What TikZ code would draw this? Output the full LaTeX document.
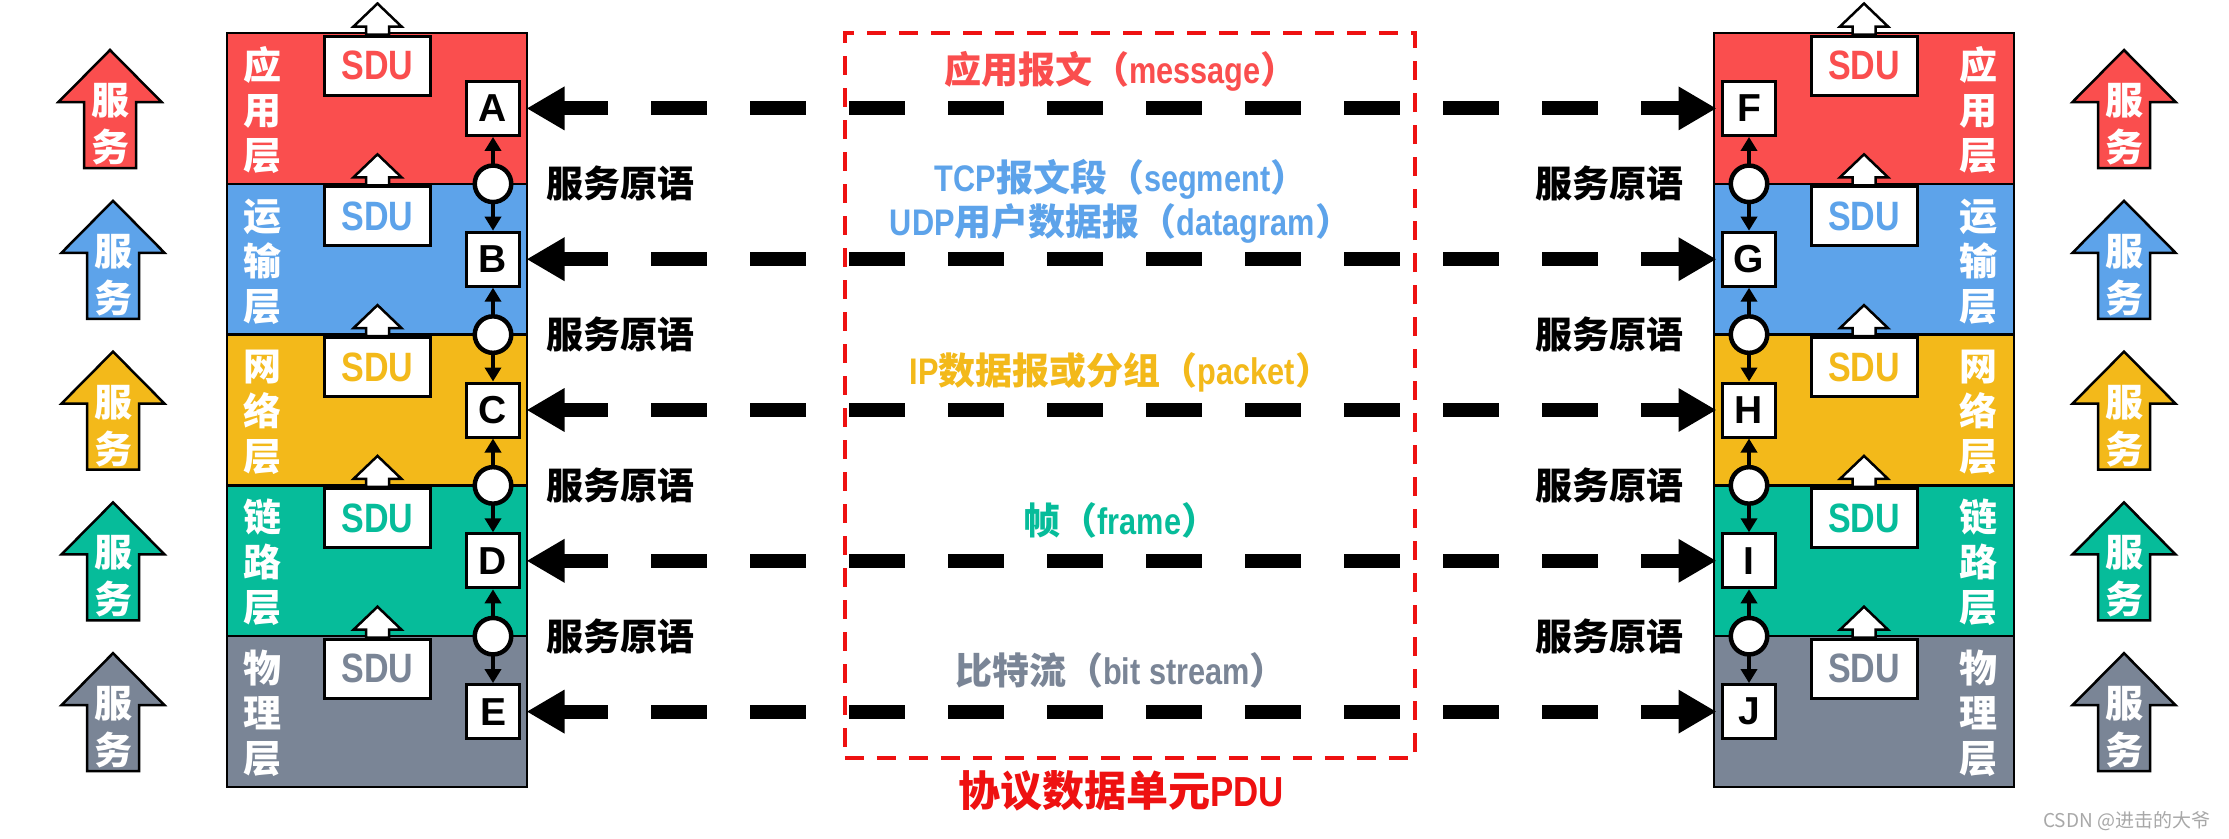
\documentclass[tikz,border=0pt]{standalone}
\usepackage{fontspec}
\usetikzlibrary{arrows.meta,calc}
\newfontfamily\zhfont{Noto Sans CJK SC}
\newfontfamily\enfont[FakeStretch=0.83]{Liberation Sans}
\newfontfamily\enwide{Liberation Sans}
\newcommand\myzh[1]{{\zhfont\bfseries #1}}
\newcommand\myen[1]{{\enfont\bfseries #1}}
\definecolor{cA}{HTML}{FA4E4E}
\definecolor{cB}{HTML}{5DA3EA}
\definecolor{cC}{HTML}{F3B91A}
\definecolor{cD}{HTML}{06BC9A}
\definecolor{cE}{HTML}{7A8596}
\definecolor{pdured}{HTML}{EE1111}
\definecolor{wmgray}{HTML}{A8A8A8}
\newcommand\svcarrow[4]{%
  \filldraw[svcarrowst,fill=#4] (#2,#3) -- (#2+51.5,#3+52) -- (#2+26,#3+52) -- (#2+26,#3+118) -- (#2-26,#3+118) -- (#2-26,#3+52) -- (#2-51.5,#3+52) -- cycle;
  \node[laylabel] (#1a) at (#2,#3+64.4) {服};
  \node[laylabel] (#1b) at (#2,#3+111.4) {务};
}
\newcommand\sduarrow[1]{%
  \filldraw[sduarrowst] ($(#1.north)+(-11.5,0)$) -- ++(0,-8) -- ++(-12.5,0) -- ($(#1.north)+(0,-31)$) -- ($(#1.north)+(24,-8)$) -- ++(-12.5,0) -- ++(0,8) -- cycle;
}
\begin{document}
\begin{tikzpicture}[x=1pt,y=-1pt,
  layerfill/.style={draw=black,line width=2.5pt},
  sdubox/.style={draw=black,fill=white,line width=3pt,minimum width=106pt,minimum height=59pt,inner sep=0pt,anchor=north,font=\enfont\bfseries\fontsize{41}{41}\selectfont},
  sduarrowst/.style={draw=black,fill=white,line width=2.5pt,line join=miter},
  letterbox/.style={draw=black,fill=white,line width=3pt,minimum width=53pt,minimum height=54pt,inner sep=0pt,font=\enwide\bfseries\fontsize{39}{39}\selectfont},
  prim/.style={draw=black,fill=white,circle,line width=4.5pt,minimum size=36.5pt,inner sep=0pt},
  smallarrow/.style={line width=4pt,{Triangle[length=14pt,width=16pt]}-{Triangle[length=14pt,width=16pt]}},
  peer/.style={line width=14pt,dash pattern=on 56pt off 43pt,dash phase=10pt,{Triangle[length=38pt,width=41pt]}-{Triangle[length=38pt,width=41pt]}},
  svcarrowst/.style={draw=black,line width=2.5pt,line join=miter},
  laylabel/.style={text=white,inner sep=0pt,anchor=base,font=\zhfont\bfseries\fontsize{38}{38}\selectfont},
  midtxt/.style={inner sep=0pt,anchor=base,font=\fontsize{37}{37}\selectfont},
  primtxt/.style={inner sep=0pt,anchor=base west,font=\zhfont\bfseries\fontsize{37}{37}\selectfont},
  pdubox/.style={draw=pdured,line width=4.5pt,dash pattern=on 19pt off 13pt,inner sep=0pt},
]
\useasboundingbox (0,0) rectangle (2229,838);
\fill[white] (0,0) rectangle (2229,838);

% layers, SDU boxes, letter boxes
\foreach \i/\col/\la/\lb/\lcc/\lname/\rname in {1/cA/应/用/层/A/F,2/cB/运/输/层/B/G,3/cC/网/络/层/C/H,4/cD/链/路/层/D/I,5/cE/物/理/层/E/J}{
  \pgfmathsetmacro\yt{33+(\i-1)*150.8}
  \pgfmathsetmacro\yc{\yt+75.4}
  \filldraw[layerfill,fill=\col] (227,\yt) rectangle (527,\yt+150.8);
  \filldraw[layerfill,fill=\col] (1714,\yt) rectangle (2014,\yt+150.8);
  \node[laylabel] (lla\i) at (262.5,\yc-43.5+14.4) {\la};
  \node[laylabel] (llb\i) at (262.5,\yc+1.5+14.4) {\lb};
  \node[laylabel] (llc\i) at (262.5,\yc+46.5+14.4) {\lcc};
  \node[laylabel] (rla\i) at (1978,\yc-43.5+14.4) {\la};
  \node[laylabel] (rlb\i) at (1978,\yc+1.5+14.4) {\lb};
  \node[laylabel] (rlc\i) at (1978,\yc+46.5+14.4) {\lcc};
  \node[sdubox,text=\col] (sduL\i) at (377.5,\yt+1.5) {SDU};
  \sduarrow{sduL\i}
  \node[sdubox,text=\col] (sduR\i) at (1864,\yt+1.5) {SDU};
  \sduarrow{sduR\i}
  \node[letterbox] (L\i) at (493,\yc) {\lname};
  \node[letterbox] (R\i) at (1749,\yc) {\rname};
}

% service primitives between layers
\foreach \i [evaluate=\i as \j using int(\i+1)] in {1,2,3,4}{
  \draw[smallarrow] (L\i.south) -- (L\j.north);
  \node[prim] (pL\i) at ($(L\i.south)!0.5!(L\j.north)$) {};
  \draw[smallarrow] (R\i.south) -- (R\j.north);
  \node[prim] (pR\i) at ($(R\i.south)!0.5!(R\j.north)$) {};
  \pgfmathsetmacro\yb{33+\i*150.8}
  \node[primtxt] (tL\i) at (546,\yb+14) {服务原语};
  \node[primtxt] (tR\i) at (1535,\yb+14) {服务原语};
}

% PDU box
\node[pdubox,minimum width=570pt,minimum height=725pt] (pdu) at (1129.75,395.5) {};
\node[midtxt,font=\fontsize{42}{42}\selectfont,text=pdured] (pdulabel) at (1121,806) {\myzh{协议数据单元}\myen{PDU}};

% peer arrows
\foreach \i in {1,...,5}{
  \draw[peer,shorten <=5.5pt,shorten >=4.5pt] (L\i.east) -- (R\i.west);
}

% PDU names
\node[midtxt,text=cA] (m1) at (1121,83) {\myzh{应用报文（}\myen{message}\myzh{）}};
\node[midtxt,text=cB] (m2) at (1121,191) {\myen{TCP}\myzh{报文段（}\myen{segment}\myzh{）}};
\node[midtxt,text=cB] (m3) at (1121,235) {\myen{UDP}\myzh{用户数据报（}\myen{datagram}\myzh{）}};
\node[midtxt,text=cC] (m4) at (1121,384) {\myen{IP}\myzh{数据报或分组（}\myen{packet}\myzh{）}};
\node[midtxt,text=cD] (m5) at (1121,534) {\myzh{帧（}\myen{frame}\myzh{）}};
\node[midtxt,text=cE] (m6) at (1121,684) {\myzh{比特流（}\myen{bit stream}\myzh{）}};

% service arrows
\svcarrow{sl1}{110}{50}{cA}
\svcarrow{sl2}{113}{200.8}{cB}
\svcarrow{sl3}{113}{351.6}{cC}
\svcarrow{sl4}{113}{502.4}{cD}
\svcarrow{sl5}{113}{653.2}{cE}
\svcarrow{sr1}{2124}{50}{cA}
\svcarrow{sr2}{2124}{200.8}{cB}
\svcarrow{sr3}{2124}{351.6}{cC}
\svcarrow{sr4}{2124}{502.4}{cD}
\svcarrow{sr5}{2124}{653.2}{cE}

% watermark
\node[inner sep=0pt,anchor=base west,text=wmgray,font=\zhfont\fontsize{19}{19}\selectfont] (wm) at (2043,827) {CSDN @进击的大爷};
\end{tikzpicture}
\end{document}
